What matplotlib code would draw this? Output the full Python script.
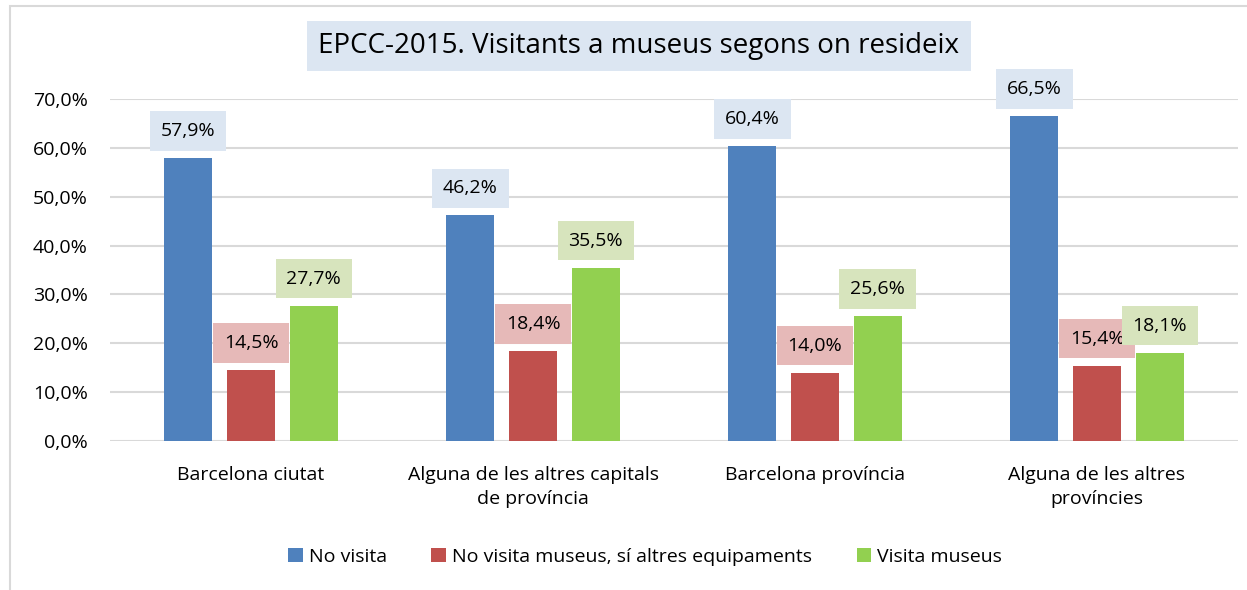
import matplotlib.pyplot as plt
import numpy as np
from matplotlib.patches import Rectangle

# data
categories = ["Barcelona ciutat", "Alguna de les altres capitals\nde província",
              "Barcelona província", "Alguna de les altres\nprovíncies"]
series_names = ["No visita", "No visita museus, sí altres equipaments", "Visita museus"]
no_visita = [57.9, 46.2, 60.4, 66.5]
altres_equip = [14.5, 18.4, 14.0, 15.4]
visita_museus = [27.7, 35.5, 25.6, 18.1]
yticks = [0, 10, 20, 30, 40, 50, 60, 70]

colors = ["#4F81BD", "#C0504D", "#92D050"]
label_bg = ["#DCE6F2", "#E6B9B8", "#D7E4BD"]

plt.rcParams['font.family'] = ['Open Sans', 'DejaVu Sans']

fig = plt.figure(figsize=(12.47, 5.9), dpi=100)
ax = fig.add_axes([110/1247, 1-441/590, 1128/1247, 342/590])

# outer border like the excel chart area
fig.patches.append(Rectangle((10/1247, -0.05), 1.1, 1-6/590+0.05, transform=fig.transFigure,
                             fill=False, edgecolor="#D9D9D9", linewidth=1.5))

x = np.arange(len(categories))
width = 0.17
offsets = [-0.222, 0.0, 0.222]
all_series = [no_visita, altres_equip, visita_museus]

for i, vals in enumerate(all_series):
    bars = ax.bar(x + offsets[i], vals, width, color=colors[i], label=series_names[i], zorder=3)
    for b, v in zip(bars, vals):
        ax.annotate(f"{v:.1f}%".replace(".", ","),
                    (b.get_x() + b.get_width()/2, v), xytext=(0, 13),
                    textcoords="offset points", ha="center", va="bottom", fontsize=14,
                    bbox=dict(boxstyle="square,pad=0.55", fc=label_bg[i], ec="none"), zorder=4)

ax.set_xlim(-0.5, 3.5)
ax.set_ylim(0, 70)
ax.set_yticks(yticks)
ax.set_yticklabels([f"{t:.1f}%".replace(".", ",") for t in yticks], fontsize=14)
ax.set_xticks(x)
ax.set_xticklabels(categories, fontsize=14, linespacing=1.45)
ax.tick_params(axis="y", length=0, pad=16)
ax.tick_params(axis="x", length=0, pad=18)
ax.grid(axis="y", color="#D9D9D9", linewidth=1.5, zorder=0)
for s in ax.spines.values():
    s.set_visible(False)

fig.text(639/1247, 1-46/590, "EPCC-2015. Visitants a museus segons on resideix", ha="center", va="center",
         fontsize=20, bbox=dict(boxstyle="square,pad=0.4", fc="#DCE6F2", ec="none"))

fig.legend(loc="center", bbox_to_anchor=(645/1247, 1-557/590), ncol=3, frameon=False, fontsize=14,
           handlelength=0.75, handleheight=0.75, handletextpad=0.3, columnspacing=2.3)

plt.savefig("out.png", dpi=100)
